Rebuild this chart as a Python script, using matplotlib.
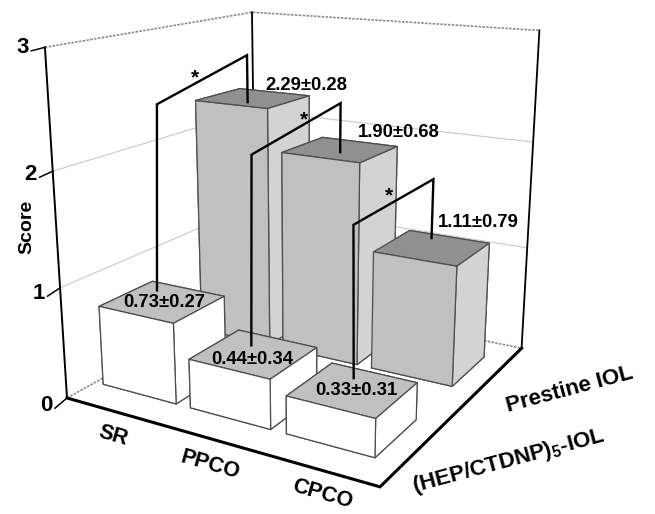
import numpy as np
import matplotlib
matplotlib.use("Agg")
import matplotlib.pyplot as plt

plt.rcParams['font.family'] = ['Liberation Sans', 'DejaVu Sans']
plt.rcParams['font.weight'] = 'bold'
plt.rcParams['mathtext.fontset'] = 'custom'
plt.rcParams['mathtext.rm'] = 'Liberation Sans:bold'
plt.rcParams['mathtext.bf'] = 'Liberation Sans:bold'
plt.rcParams['mathtext.default'] = 'rm'

# ---- data ----
categories = ["SR", "PPCO", "CPCO"]
series_names = ["(HEP/CTDNP)$_5$-IOL", "Prestine IOL"]
hep_mean = [0.73, 0.44, 0.33]
hep_sd = [0.27, 0.34, 0.31]
pristine_mean = [2.29, 1.90, 1.11]
pristine_sd = [0.28, 0.68, 0.79]
z_ticks = [0, 1, 2, 3]

# ---- layout / styling ----
x0, x1 = -0.512, 2.666          # category axis limits
y0, y1 = -0.5, 1.5              # series (depth) axis limits
ztop = 3.0
bar_w, bar_d = 0.842, 0.5       # bar width along categories / depth
series_y = [0.0, 1.0]           # HEP in front, pristine behind

# bracket geometry (offsets from each category centre)
br_dx_left = [-0.224, -0.119, -0.099]
br_lean_left = [0.08, 0.03, -0.02]
br_y_left = [0.133, 0.092, 0.13]
br_z_left = [2.427, 2.115, 1.641]
br_dx_right = [0.077, 0.055, -0.128]
br_y_right = [0.864, 0.936, 1.172]
br_z_right = [2.726, 2.349, 1.668]
star_dx = [-0.133, 0.059, -0.075]
star_z = [2.58, 2.31, 1.75]

hep_lab_dx = [0.03, 0.06, 0.04]
hep_lab_y = [-0.01, -0.07, -0.01]
pri_lab_dx = [0.61, 0.61, 0.45]
pri_lab_dz = [0.17, 0.22, 0.29]
cat_lab_y = [-0.735, -0.735, -0.70]

fig = plt.figure(figsize=(6.55, 5.14), dpi=100)
ax = fig.add_axes([0.01111, 0.00637, 0.88785, 1.13141], projection='3d',
                  proj_type='persp', focal_length=0.3621)
ax.view_init(elev=15.9469, azim=-59.8701)
ax.set_box_aspect((1.0, 1.0027, 1.0028))
ax.set_xlim(x0, x1)
ax.set_ylim(y0, y1)
ax.set_zlim(0, ztop)
ax.set_axis_off()


def flat_text(x, y, z, s, rotation=0, **kw):
    """Place 2D (rotatable) text at the projection of a 3D point."""
    M = ax.get_proj()
    v = M @ np.array([x, y, z, 1.0])
    ax.text2D(v[0] / v[3], v[1] / v[3], s, transform=ax.transData,
              rotation=rotation, fontweight='bold', zorder=100, **kw)


# ---- walls and floor ----
for z in z_ticks[1:-1]:
    ax.plot([x0, x0, x1], [y0, y1, y1], [z, z, z], color='#c9c9c9', lw=0.8, zorder=1)
dotted = dict(color='#8a8a8a', lw=1.2, ls=(0, (1.5, 0.8)), zorder=1)
ax.plot([x0, x0, x1], [y0, y1, y1], [ztop] * 3, **dotted)
ax.plot([x0, x0, x1], [y0, y1, y1], [0, 0, 0], **dotted)
ax.plot([x0, x0], [y1, y1], [0, ztop], color='black', lw=1.3, zorder=1)
ax.plot([x1, x1], [y1, y1], [0, ztop], color='black', lw=1.3, zorder=1)
ax.plot([x0, x0], [y0, y0], [0, ztop], color='black', lw=1.4, zorder=1)
ax.plot([x0, x1, x1], [y0, y0, y1], [0, 0, 0], color='black', lw=2.2, zorder=1,
        solid_joinstyle='miter')

# z ticks and labels
for z in z_ticks:
    ax.plot([x0, x0 + 0.05], [y0, y0 - 0.135], [z, z], color='black', lw=1.1, zorder=1)
    flat_text(x0 + 0.02, y0 - 0.135, z + 0.02, str(z), ha='right', va='center',
              fontsize=16)
flat_text(x0, -0.721, 1.615, 'Score', rotation=90, ha='center', va='center',
          fontsize=14)

# ---- bars ----
xs = np.arange(len(categories))
hep_faces = ['white', '#c0c0c0', 'white', 'white', 'white', 'white']
pri_faces = ['#c0c0c0', '#909090', '#c0c0c0', '#c0c0c0', '#c0c0c0', '#d3d3d3']
bx, by, bh, cols = [], [], [], []
for s, (vals, faces) in enumerate([(hep_mean, hep_faces), (pristine_mean, pri_faces)]):
    for i, v in enumerate(vals):
        bx.append(xs[i] - bar_w / 2)
        by.append(series_y[s] - bar_d / 2)
        bh.append(v)
        cols.extend(faces)
ax.bar3d(bx, by, np.zeros(len(bx)), bar_w, bar_d, bh, color=cols, shade=False,
         edgecolor='#4d4d4d', linewidth=0.9)

# ---- value labels ----
for i in range(len(categories)):
    flat_text(xs[i] + hep_lab_dx[i], hep_lab_y[i], hep_mean[i],
              f"{hep_mean[i]:.2f}±{hep_sd[i]:.2f}", ha='center', va='center',
              fontsize=13.3)
    flat_text(xs[i] + pri_lab_dx[i], series_y[1] + 0.014, pristine_mean[i] + pri_lab_dz[i],
              f"{pristine_mean[i]:.2f}±{pristine_sd[i]:.2f}", ha='center', va='center',
              fontsize=13.3)

# ---- significance brackets ----
for i in range(len(categories)):
    xl = xs[i] + br_dx_left[i]
    xr = xs[i] + br_dx_right[i]
    ax.plot([xl, xl + br_lean_left[i], xr, xr],
            [br_y_left[i], br_y_left[i], br_y_right[i], br_y_right[i]],
            [hep_mean[i], br_z_left[i], br_z_right[i], pristine_mean[i]],
            color='black', lw=1.7, zorder=100, solid_joinstyle='miter')
    flat_text(xs[i] + star_dx[i], 0.5, star_z[i], '*', ha='center', va='center',
              fontsize=15)

# ---- axis category / series labels ----
for i, c in enumerate(categories):
    flat_text(xs[i] + 0.33, cat_lab_y[i], 0, c, rotation=-16, ha='center', va='center',
              fontsize=15.5)
for s, name in enumerate(series_names):
    flat_text(3.39, series_y[s] + 0.055, 0, name, rotation=15, ha='center',
              va='center', fontsize=16)

fig.savefig('out.png', dpi=100)
